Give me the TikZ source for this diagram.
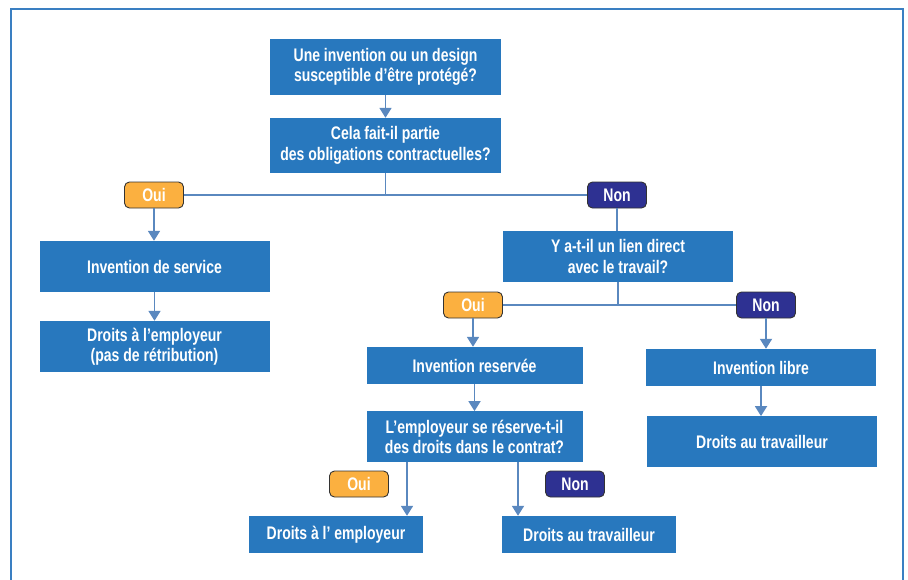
\documentclass[tikz,border=0pt]{standalone}
\usepackage{fontspec}
\setmainfont[FakeStretch=0.77]{Liberation Sans}
\usetikzlibrary{arrows.meta}
\definecolor{boxblue}{HTML}{2878BE}
\definecolor{linkblue}{HTML}{5A88BF}
\definecolor{frameblue}{HTML}{3A7FC2}
\definecolor{ouicol}{HTML}{FBB040}
\definecolor{noncol}{HTML}{2E3192}
\begin{document}
\begin{tikzpicture}[x=1pt,y=-1pt,
  every node/.style={font=\fontsize{18.2}{20.5}\selectfont\bfseries, text=white, align=center, inner sep=0pt},
  flowbox/.style 2 args={fill=boxblue, minimum width=#1pt, minimum height=#2pt},
  ouibadge/.style={fill=ouicol, draw=black!80, line width=0.9pt, rounded corners=5pt, minimum width=59pt, minimum height=26pt},
  nonbadge/.style={fill=noncol, draw=black!80, line width=0.9pt, rounded corners=5pt, minimum width=59pt, minimum height=26pt},
  link/.style={draw=linkblue, line width=1.8pt},
  arr/.style={link, -{Triangle[width=12pt,length=10pt]}}]
\useasboundingbox (0,0) rectangle (908,579);
\draw[frameblue, line width=1.8pt] (11,585) -- (11,9) -- (903,9) -- (903,585);

\node[flowbox={231}{56}] (b1) at (385.5,67) {Une invention ou un design\\susceptible d’être protégé?};
\node[flowbox={231}{55}] (b2) at (385.5,145.5) {Cela fait-il partie\\des obligations contractuelles?};
\node[ouibadge] (oui1) at (154,195) {Oui};
\node[nonbadge] (non1) at (617,195) {Non};
\node[flowbox={230}{51}] (b3) at (154.5,266.5) {Invention de service};
\node[flowbox={230}{51}] (b4) at (154.5,346.5) {Droits à l’employeur\\(pas de rétribution)};
\node[flowbox={230}{51}] (b5) at (618,256.5) {Y a-t-il un lien direct\\avec le travail?};
\node[ouibadge] (oui2) at (473,305) {Oui};
\node[nonbadge] (non2) at (766,305) {Non};
\node[flowbox={216}{37}] (b6) at (474.5,365.5) {Invention reservée};
\node[flowbox={230}{37}] (b7) at (761,367.5) {Invention libre};
\node[flowbox={216}{51}] (b8) at (474.5,436.8) {L’employeur se réserve-t-il\\des droits dans le contrat?};
\node[flowbox={230}{51}] (b9) at (762,441.8) {Droits au travailleur};
\node[ouibadge] (oui3) at (359,484) {Oui};
\node[nonbadge] (non3) at (575,484) {Non};
\node[flowbox={174}{37}] (b10) at (336,534.5) {Droits à l’ employeur};
\node[flowbox={174}{37}] (b11) at (589,534.5) {Droits au travailleur};

\draw[arr] (b1) -- (b2);
\draw[link] (b2.south) -- (b2.south |- oui1);
\draw[link] (oui1.east) -- (non1.west);
\draw[arr] (oui1) -- (oui1 |- b3.north);
\draw[arr] (b3) -- (b4);
\draw[link] (non1.south) -- (non1 |- b5.north);
\draw[link] (b5.south) -- (b5.south |- oui2);
\draw[link] (oui2.east) -- (non2.west);
\draw[arr] (oui2) -- (oui2 |- b6.north);
\draw[arr] (non2) -- (non2 |- b7.north);
\draw[arr] (b6) -- (b8);
\draw[arr] (b7.south) -- (b7.south |- b9.north);
\coordinate (s1) at (407,462.3);
\coordinate (s2) at (518,462.3);
\draw[arr] (s1) -- (s1 |- b10.north);
\draw[arr] (s2) -- (s2 |- b11.north);
\end{tikzpicture}
\end{document}
